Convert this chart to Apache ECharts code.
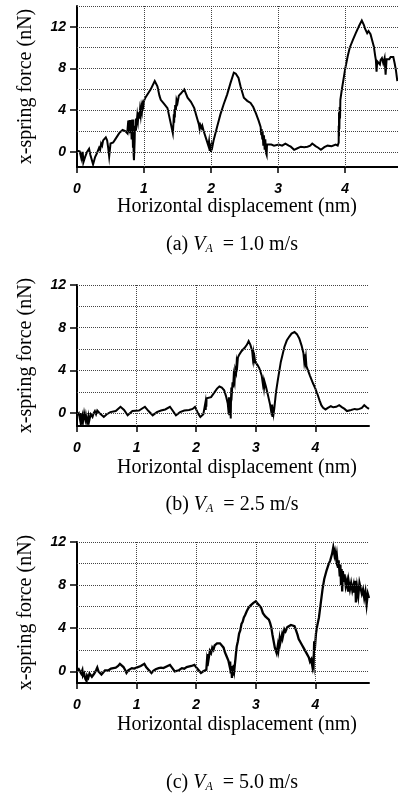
<!DOCTYPE html>
<html>
<head>
<meta charset="utf-8">
<script src="https://cdn.jsdelivr.net/npm/echarts@6/dist/echarts.min.js"></script>
<style>
html,body{margin:0;padding:0;background:#fff;}
#chart{width:398px;height:793px;}
</style>
</head>
<body>
<div id="chart"></div>
<script>
// ---------- data ----------
const xTickLabels = [0, 1, 2, 3, 4];
const yTickLabels = [0, 4, 8, 12];
const captions = ['(a)', '(b)', '(c)'];
const speeds = ['1.0 m/s', '2.5 m/s', '5.0 m/s'];

// panel (a) V_A = 1.0 m/s
const xA = [0,0.04,0.05,0.06,0.065,0.07,0.075,0.08,0.085,0.095,0.12,0.15,0.18,0.20,0.24,0.27,0.30,0.33,0.345,0.36,0.375,0.39,0.41,0.43,0.45,0.465,0.48,0.50,0.54,0.58,0.63,0.68,0.72,0.75,0.765,0.775,0.785,0.795,0.805,0.815,0.825,0.835,0.84,0.845,0.85,0.86,0.865,0.875,0.88,0.89,0.90,0.91,0.92,0.93,0.94,0.95,0.96,0.97,0.98,0.99,1.00,1.02,1.06,1.10,1.16,1.20,1.23,1.25,1.30,1.35,1.39,1.43,1.44,1.445,1.45,1.455,1.46,1.465,1.475,1.485,1.50,1.52,1.55,1.60,1.62,1.65,1.70,1.75,1.78,1.82,1.83,1.84,1.86,1.87,1.89,1.93,1.96,1.97,1.98,1.99,2.00,2.01,2.02,2.04,2.09,2.14,2.19,2.24,2.29,2.34,2.37,2.41,2.44,2.49,2.54,2.59,2.63,2.67,2.71,2.74,2.75,2.755,2.765,2.77,2.78,2.79,2.80,2.81,2.82,2.83,2.835,2.84,2.86,2.90,2.94,3.01,3.06,3.11,3.16,3.19,3.24,3.29,3.34,3.39,3.44,3.48,3.51,3.56,3.60,3.64,3.69,3.74,3.80,3.86,3.89,3.905,3.905,3.91,3.91,3.915,3.92,3.925,3.93,3.95,4.00,4.04,4.07,4.12,4.16,4.21,4.25,4.28,4.30,4.32,4.33,4.35,4.38,4.40,4.43,4.45,4.46,4.47,4.48,4.50,4.52,4.53,4.55,4.57,4.59,4.605,4.62,4.64,4.66,4.68,4.72,4.74,4.76,4.78];
const yA = [0.1,0.05,0.0,-0.5,0.0,-0.7,-0.05,-0.85,0.0,-1.0,-0.5,0.0,0.3,-0.3,-1.2,-0.5,-0.1,0.4,0.2,0.8,0.6,1.1,1.0,1.4,1.1,0.4,-0.45,0.8,0.9,1.3,1.8,2.1,2.0,1.8,3.0,2.4,3.05,1.8,3.05,1.2,3.1,0.4,3.1,-0.3,-0.8,1.0,2.5,2.0,3.2,2.8,3.5,3.0,3.8,3.2,4.0,3.5,4.3,3.9,4.6,4.4,4.9,5.2,5.6,6.0,6.8,6.3,5.4,5.0,4.6,4.2,3.0,1.8,2.8,3.6,2.8,4.1,3.3,4.5,4.0,5.0,4.7,5.4,5.6,6.0,5.9,5.2,4.8,4.2,3.5,2.6,2.2,2.6,2.3,2.5,2.0,1.2,0.6,1.0,0.1,0.8,0.0,0.7,0.5,1.15,2.4,3.6,4.6,5.5,6.6,7.6,7.5,7.1,6.3,5.2,4.9,4.7,4.3,3.7,3.0,2.4,1.6,2.2,1.2,1.9,0.6,1.6,0.2,1.2,-0.1,-0.3,0.7,0.85,0.6,0.7,0.6,0.7,0.6,0.8,0.6,0.5,0.2,0.35,0.5,0.45,0.5,0.6,0.8,0.55,0.4,0.2,0.45,0.6,0.55,0.7,0.6,0.9,2.5,1.5,3.8,2.2,4.3,3.2,5.0,5.9,7.9,9.2,10.0,10.8,11.4,12.1,12.6,12.2,11.8,11.7,11.4,11.6,11.3,10.8,10.1,9.2,8.8,7.7,8.7,8.6,8.4,8.8,9.0,8.5,9.0,7.4,8.9,9.0,8.9,9.1,9.1,8.5,7.8,6.8];

// panel (b) V_A = 2.5 m/s
const xB = [0,0.03,0.05,0.06,0.07,0.09,0.10,0.12,0.14,0.15,0.17,0.19,0.20,0.23,0.26,0.28,0.30,0.32,0.34,0.38,0.45,0.50,0.56,0.65,0.73,0.79,0.85,0.93,1.04,1.14,1.20,1.27,1.34,1.41,1.48,1.56,1.61,1.66,1.73,1.80,1.88,1.94,1.98,2.03,2.07,2.12,2.15,2.155,2.16,2.165,2.17,2.175,2.20,2.25,2.30,2.35,2.39,2.43,2.47,2.50,2.53,2.545,2.55,2.555,2.565,2.58,2.585,2.59,2.60,2.61,2.62,2.63,2.645,2.655,2.67,2.68,2.69,2.70,2.72,2.76,2.81,2.85,2.88,2.91,2.94,2.95,2.96,2.97,2.98,2.99,3.03,3.06,3.10,3.12,3.13,3.14,3.15,3.17,3.20,3.24,3.27,3.275,3.28,3.29,3.30,3.31,3.34,3.37,3.42,3.48,3.52,3.56,3.60,3.65,3.69,3.73,3.77,3.80,3.81,3.82,3.83,3.84,3.85,3.87,3.91,3.96,4.00,4.04,4.07,4.10,4.13,4.17,4.21,4.26,4.30,4.35,4.40,4.45,4.49,4.53,4.56,4.60,4.66,4.70,4.74,4.78,4.82,4.86,4.90];
const yB = [-0.2,0.0,-0.6,0.0,-0.9,-0.3,-0.85,0.0,-0.6,-0.2,-0.9,-0.3,-0.85,-0.1,-0.35,0.0,0.2,-0.1,0.25,0.0,-0.35,-0.1,0.1,0.2,0.6,0.3,-0.2,0.2,0.25,0.6,0.2,-0.2,0.1,0.25,0.35,0.6,0.2,-0.2,0.1,0.25,0.3,0.4,0.6,0.0,-0.35,-0.1,0.0,1.0,0.3,1.2,0.6,1.4,1.3,1.5,1.9,2.3,2.5,2.4,2.15,1.6,0.9,0.0,1.5,-0.2,1.5,-0.5,1.5,2.4,2.0,2.9,2.4,3.5,3.0,4.1,3.8,4.8,4.5,5.2,5.45,5.8,6.1,6.4,6.75,6.4,5.8,5.2,5.6,4.9,5.2,4.8,4.5,4.2,3.5,2.7,3.0,2.4,2.9,2.5,1.8,0.8,-0.2,0.8,-0.35,0.6,0.0,0.4,2.0,3.1,4.8,6.2,6.8,7.15,7.45,7.6,7.4,7.0,6.3,5.6,5.0,5.5,4.8,5.2,4.4,4.35,3.5,2.8,2.3,1.7,1.2,0.75,0.5,0.35,0.5,0.65,0.55,0.6,0.75,0.55,0.4,0.2,0.1,0.3,0.4,0.35,0.4,0.5,0.75,0.55,0.4];

// panel (c) V_A = 5.0 m/s
const xC = [0,0.03,0.05,0.07,0.09,0.10,0.12,0.14,0.16,0.17,0.19,0.21,0.22,0.25,0.27,0.29,0.32,0.34,0.36,0.38,0.41,0.44,0.47,0.50,0.53,0.57,0.61,0.65,0.69,0.72,0.75,0.78,0.81,0.83,0.86,0.89,0.92,0.96,1.00,1.03,1.07,1.10,1.13,1.16,1.20,1.23,1.25,1.28,1.32,1.37,1.41,1.45,1.48,1.52,1.56,1.60,1.64,1.67,1.71,1.76,1.80,1.84,1.87,1.92,1.97,2.01,2.04,2.08,2.12,2.17,2.18,2.19,2.20,2.21,2.23,2.25,2.27,2.29,2.31,2.33,2.35,2.37,2.40,2.43,2.46,2.48,2.51,2.54,2.56,2.57,2.58,2.59,2.60,2.61,2.62,2.63,2.64,2.66,2.67,2.68,2.70,2.72,2.74,2.76,2.78,2.80,2.82,2.85,2.88,2.91,2.93,2.96,3.00,3.03,3.06,3.09,3.12,3.16,3.19,3.22,3.24,3.26,3.28,3.30,3.32,3.35,3.37,3.38,3.40,3.41,3.44,3.45,3.48,3.50,3.53,3.56,3.59,3.62,3.65,3.67,3.70,3.72,3.75,3.78,3.80,3.83,3.86,3.89,3.91,3.93,3.95,3.96,3.97,3.98,3.99,4.01,4.03,4.06,4.09,4.12,4.15,4.19,4.22,4.25,4.28,4.30,4.32,4.33,4.35,4.36,4.38,4.39,4.41,4.42,4.43,4.44,4.45,4.46,4.48,4.49,4.51,4.53,4.55,4.56,4.58,4.60,4.62,4.64,4.65,4.67,4.68,4.70,4.72,4.74,4.76,4.78,4.80,4.82,4.84,4.86,4.88,4.90];
const yC = [0.0,0.2,0.1,-0.2,0.1,-0.4,-0.2,-0.7,-0.9,-0.4,-0.6,-0.2,-0.35,-0.5,-0.6,-0.2,0.1,0.35,0.0,-0.1,-0.3,-0.1,0.1,0.15,0.1,0.25,0.3,0.35,0.5,0.7,0.8,0.4,0.1,-0.15,0.1,0.2,0.3,0.25,0.35,0.3,0.5,0.55,0.7,0.4,0.15,0.0,-0.15,0.05,0.2,0.3,0.35,0.3,0.4,0.5,0.6,0.3,0.0,-0.15,0.1,0.3,0.25,0.4,0.45,0.5,0.6,0.3,0.15,-0.15,0.0,0.15,0.9,0.5,1.6,1.2,1.9,1.7,2.2,2.0,2.4,2.3,2.6,2.5,2.6,2.4,2.2,1.8,1.4,1.0,0.5,0.9,-0.2,0.5,-0.6,0.4,-0.4,0.6,0.15,1.2,1.8,2.3,2.8,3.5,3.8,4.4,4.6,5.0,5.2,5.6,5.9,6.1,6.2,6.35,6.5,6.3,6.1,5.9,5.4,5.1,5.0,4.8,4.5,4.1,3.4,2.8,2.2,1.7,2.4,2.0,3.0,2.6,3.4,3.1,3.9,3.7,4.1,4.0,4.3,4.4,4.2,3.9,3.4,3.0,2.7,2.4,2.2,1.9,1.6,1.3,0.9,1.1,0.45,0.9,0.6,2.8,2.0,3.5,4.2,5.0,6.3,7.6,8.6,9.4,9.9,10.3,10.9,11.5,10.8,11.1,10.4,10.8,9.6,10.3,8.8,9.9,8.0,9.5,7.4,9.3,8.3,9.0,7.9,8.4,7.4,8.3,7.6,8.2,7.5,8.0,7.3,8.4,6.4,7.8,7.0,8.2,8.35,7.2,7.6,6.8,7.4,6.2,7.2,6.8];

// ---------- build ----------
const zip = (xs, ys) => xs.map((x, i) => [x, ys[i]]);
const panels = [
  {xs: xA, ys: yA, top: 6,   height: 161, width: 321, xMax: 4.79, yMin: -1.45, yMax: 14, grid: [0,2,4,6,8,10,12,14], lw: 2},
  {xs: xB, ys: yB, top: 285, height: 141, width: 292, xMax: 4.9,  yMin: -1.2,  yMax: 12, grid: [0,2,4,6,8,10,12], lw: 2},
  {xs: xC, ys: yC, top: 542, height: 141, width: 292, xMax: 4.9,  yMin: -1.08, yMax: 12, grid: [0,2,4,6,8,10,12], lw: 2.3}
];
const xNameY = [207, 468, 725];
const capY = [243, 503, 781];

const tickFont = {fontFamily: 'Liberation Sans', fontStyle: 'italic', fontWeight: 'bold', fontSize: 14, color: '#000'};
const serif = 'Liberation Serif';

const grids = [], xAxes = [], yAxes = [], series = [], graphics = [];
panels.forEach((p, i) => {
  grids.push({left: 77, top: p.top, width: p.width, height: p.height, containLabel: false});
  xAxes.push({
    type: 'value', gridIndex: i, min: 0, max: p.xMax,
    axisLine: {show: true, onZero: false, lineStyle: {color: '#000', width: 2}},
    axisTick: {show: true, customValues: xTickLabels, length: 6, lineStyle: {color: '#000', width: 1.5}},
    axisLabel: Object.assign({customValues: xTickLabels, margin: 15}, tickFont),
    splitLine: {show: false}
  });
  yAxes.push({
    type: 'value', gridIndex: i, min: p.yMin, max: p.yMax,
    name: 'x-spring force (nN)', nameLocation: 'middle', nameGap: 41, nameRotate: 90,
    nameTextStyle: {fontFamily: serif, fontSize: 20, color: '#000'},
    axisLine: {show: true, onZero: false, lineStyle: {color: '#000', width: 2}},
    axisTick: {show: true, customValues: yTickLabels, length: 7, lineStyle: {color: '#000', width: 1.5}},
    axisLabel: Object.assign({customValues: yTickLabels, margin: 11}, tickFont),
    splitLine: {show: false}
  });
  const gl = xTickLabels.filter(v => v > 0).map(v => ({xAxis: v}))
    .concat(p.grid.map(v => ({yAxis: v})));
  series.push({
    type: 'line', xAxisIndex: i, yAxisIndex: i, data: [], z: 1, silent: true,
    markLine: {silent: true, symbol: ['none', 'none'], label: {show: false},
      lineStyle: {color: '#444', width: 1, type: [1, 1]}, data: gl, animation: false}
  });
  series.push({
    type: 'line', xAxisIndex: i, yAxisIndex: i, data: zip(p.xs, p.ys), z: 3,
    showSymbol: false, symbol: 'none', silent: true,
    lineStyle: {color: '#000', width: p.lw, join: 'miter'}
  });
  graphics.push({
    type: 'text', x: 237, y: xNameY[i],
    style: {text: 'Horizontal displacement (nm)', font: '20px "Liberation Serif"', fill: '#000', align: 'center', verticalAlign: 'middle'}
  });
  graphics.push({
    type: 'text', x: 232, y: capY[i],
    style: {
      text: '{p|' + captions[i] + ' }{v|V}{s|A}{p|  = ' + speeds[i] + '}',
      align: 'center', verticalAlign: 'middle', fill: '#000',
      rich: {
        p: {fontFamily: serif, fontSize: 20, lineHeight: 24, verticalAlign: 'bottom'},
        v: {fontFamily: serif, fontSize: 20, fontStyle: 'italic', lineHeight: 24, verticalAlign: 'bottom'},
        s: {fontFamily: serif, fontSize: 12, fontStyle: 'italic', lineHeight: 18, verticalAlign: 'bottom'}
      }
    }
  });
});

const chart = echarts.init(document.getElementById('chart'), null, {renderer: 'canvas'});
chart.setOption({
  animation: false,
  backgroundColor: '#fff',
  grid: grids, xAxis: xAxes, yAxis: yAxes, series: series, graphic: graphics
});
</script>
</body>
</html>
